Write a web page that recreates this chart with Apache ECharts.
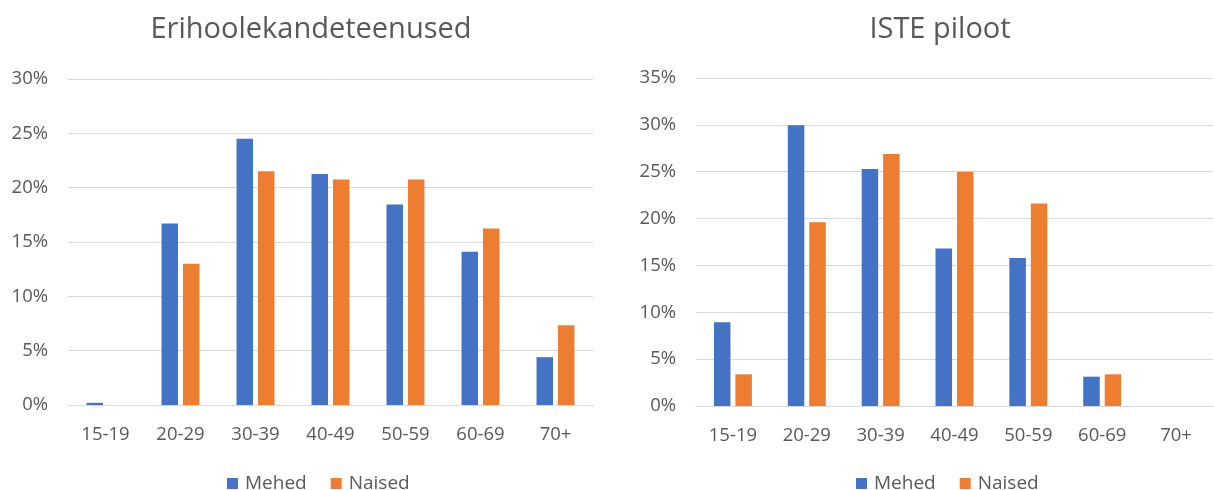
<!DOCTYPE html>
<html><head><meta charset="utf-8">
<script src="https://cdn.jsdelivr.net/npm/echarts@6/dist/echarts.min.js"></script>
<style>html,body{margin:0;padding:0;background:#fff}#c{width:1214px;height:490px}</style>
</head><body><div id="c"></div>
<script>
const categories = ['15-19','20-29','30-39','40-49','50-59','60-69','70+'];
const titleLeft = 'Erihoolekandeteenused';
const titleRight = 'ISTE piloot';
const seriesNames = ['Mehed','Naised'];
const leftMehed  = [0.002, 0.167, 0.245, 0.2125, 0.1845, 0.141, 0.044];
const leftNaised = [0.0,   0.130, 0.215, 0.2075, 0.2075, 0.1625, 0.0735];
const rightMehed  = [0.0895, 0.2995, 0.253, 0.168, 0.158, 0.0313, 0];
const rightNaised = [0.0338, 0.196, 0.269, 0.250, 0.216, 0.0338, 0];
const leftMax = 0.30, rightMax = 0.35, yStep = 0.05;

const FONT = 'Open Sans';
const TXT = '#595959';
const BLUE = '#4472C4', ORANGE = '#ED7D31';
const pct = v => Math.round(v*100) + '%';

function xAx(gi){return {type:'category',gridIndex:gi,data:categories,
  axisLine:{lineStyle:{color:'#D9D9D9'}},axisTick:{show:false},
  axisLabel:{color:TXT,fontFamily:FONT,fontSize:18.5,margin:20}};}
function yAx(gi,max){return {type:'value',gridIndex:gi,min:0,max:max,interval:yStep,
  axisLine:{show:false},axisTick:{show:false},
  splitLine:{lineStyle:{color:'#D9D9D9',width:1}},
  axisLabel:{color:TXT,fontFamily:FONT,fontSize:18.5,margin:20,formatter:pct}};}
function bar(name,data,gi,color){return {type:'bar',name:name,data:data,xAxisIndex:gi,yAxisIndex:gi,
  barWidth:16.5,barGap:'30%',itemStyle:{color:color},emphasis:{disabled:true}};}

const chart = echarts.init(document.getElementById('c'),null,{renderer:'canvas'});
const legendCommon = {data:seriesNames,top:469,itemWidth:11,itemHeight:11,itemGap:24,icon:'rect',
  textStyle:{color:TXT,fontFamily:FONT,fontSize:19,padding:[0,0,0,2]}};
chart.setOption({
  animation:false,
  title:[
    {text:titleLeft,left:306,top:10,textAlign:'center',textStyle:{color:TXT,fontFamily:FONT,fontSize:29,fontWeight:'normal'}},
    {text:titleRight,left:935,top:10,textAlign:'center',textStyle:{color:TXT,fontFamily:FONT,fontSize:29,fontWeight:'normal'}}
  ],
  legend:[
    Object.assign({left:222},legendCommon),
    Object.assign({left:851},legendCommon)
  ],
  grid:[
    {left:68,width:525,top:79,height:326},
    {left:696,width:517,top:78,height:328}
  ],
  xAxis:[xAx(0),xAx(1)],
  yAxis:[yAx(0,leftMax),yAx(1,rightMax)],
  series:[
    bar(seriesNames[0],leftMehed,0,BLUE),
    bar(seriesNames[1],leftNaised,0,ORANGE),
    bar(seriesNames[0],rightMehed,1,BLUE),
    bar(seriesNames[1],rightNaised,1,ORANGE)
  ]
});
</script></body></html>
